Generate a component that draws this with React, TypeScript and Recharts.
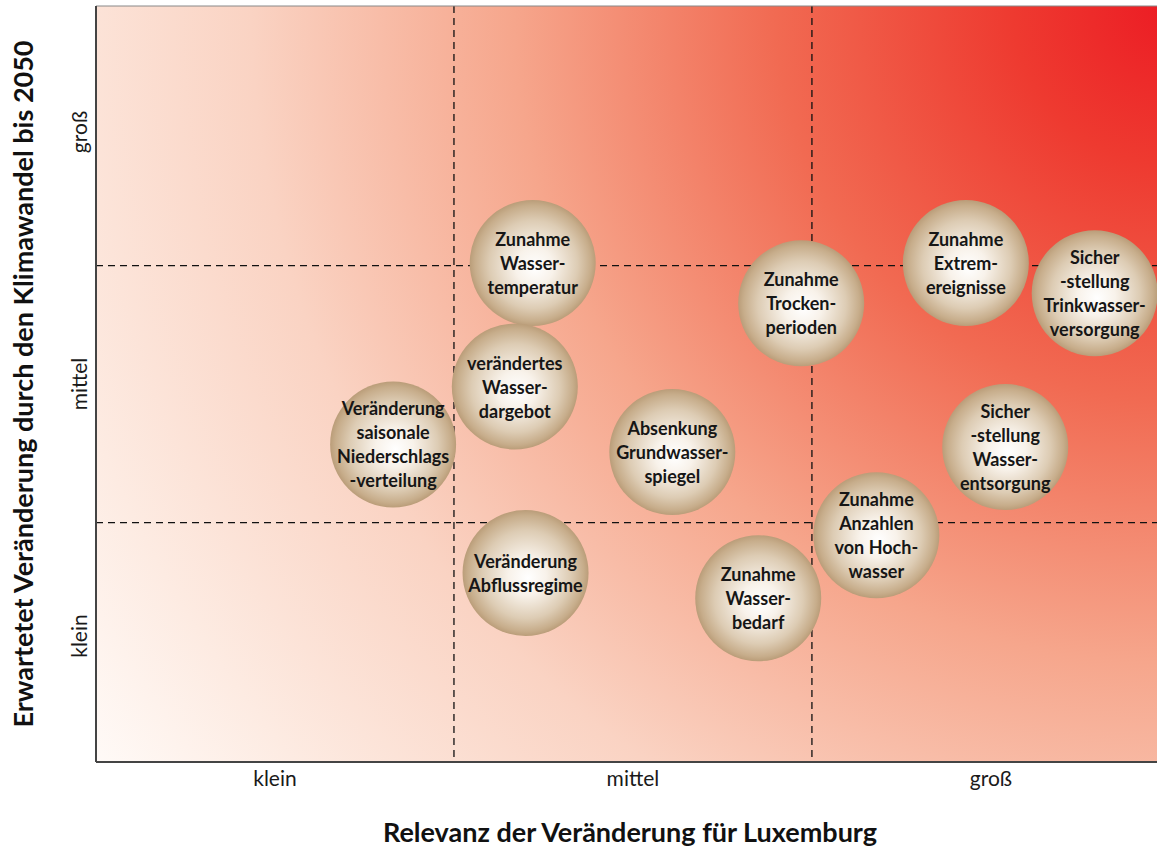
import { ScatterChart, Scatter, XAxis, YAxis, CartesianGrid, ReferenceLine } from "recharts";

const levels = ["klein", "mittel", "groß"];
const levelTicks = [0.5, 1.5, 2.5];
const splitX = [1, 2];
const splitY = [0.95, 1.97];

const topics = [
  "Zunahme\nWasser-\ntemperatur",
  "verändertes\nWasser-\ndargebot",
  "Veränderung\nsaisonale\nNiederschlags\n-verteilung",
  "Absenkung\nGrundwasser-\nspiegel",
  "Veränderung\nAbflussregime",
  "Zunahme\nWasser-\nbedarf",
  "Zunahme\nTrocken-\nperioden",
  "Zunahme\nExtrem-\nereignisse",
  "Sicher\n-stellung\nTrinkwasser-\nversorgung",
  "Sicher\n-stellung\nWasser-\nentsorgung",
  "Zunahme\nAnzahlen\nvon Hoch-\nwasser",
];
const relevance = [1.22, 1.17, 0.83, 1.61, 1.2, 1.85, 1.97, 2.43, 2.79, 2.54, 2.18];
const change = [1.98, 1.49, 1.26, 1.23, 0.75, 0.65, 1.82, 1.98, 1.86, 1.25, 0.9];

const data = topics.map((label, i) => ({ label, x: relevance[i], y: change[i] }));

const FONT = "Lato, 'Open Sans', sans-serif";
const BUBBLE_R = 63;

function Bubble(props: any) {
  const { cx, cy, payload } = props;
  const lines: string[] = payload.label.split("\n");
  const lh = 24;
  const y0 = cy - ((lines.length - 1) * lh) / 2;
  return (
    <g>
      <circle cx={cx} cy={cy} r={BUBBLE_R} fill="url(#bubble)" />
      <text textAnchor="middle" fontFamily={FONT} fontWeight={700} fontSize={18} fill="#161616">
        {lines.map((l, i) => (
          <tspan key={i} x={cx} y={y0 + i * lh} dominantBaseline="central">
            {l}
          </tspan>
        ))}
      </text>
    </g>
  );
}

function XTick({ x, y, payload }: any) {
  return (
    <text x={x} y={y} dy={16} textAnchor="middle" fontFamily={FONT} fontSize={21} fill="#1a1a1a">
      {levels[Math.floor(payload.value)]}
    </text>
  );
}

function YTick({ x, y, payload }: any) {
  const tx = x - 1;
  return (
    <text x={tx} y={y} transform={`rotate(-90, ${tx}, ${y})`} textAnchor="middle" fontFamily={FONT} fontSize={21} fill="#1a1a1a">
      {levels[Math.floor(payload.value)]}
    </text>
  );
}

export default function App() {
  return (
    <div style={{ position: "absolute", left: 0, top: 0, width: 1157, height: 848, overflow: "hidden", background: "#fff" }}>
      <ScatterChart width={1157} height={848} margin={{ top: 6, right: 0, bottom: 0, left: 0 }}>
        <defs>
          <radialGradient id="bg" gradientUnits="userSpaceOnUse" cx={1170} cy={6} r={1313}>
            <stop offset="0" stopColor="#EC1C24" />
            <stop offset="0.12" stopColor="#EE3A30" />
            <stop offset="0.3" stopColor="#F16A52" />
            <stop offset="0.5" stopColor="#F6A68C" />
            <stop offset="0.7" stopColor="#FAD3C3" />
            <stop offset="0.88" stopColor="#FDEBE2" />
            <stop offset="1" stopColor="#FFFAF7" />
          </radialGradient>
          <radialGradient id="bubble" cx="50%" cy="50%" r="50%" fx="52%" fy="54%">
            <stop offset="0" stopColor="#FFFFFF" />
            <stop offset="0.3" stopColor="#F8F2EA" />
            <stop offset="0.7" stopColor="#DDCCB4" />
            <stop offset="0.92" stopColor="#C7AD8B" />
            <stop offset="1" stopColor="#BA9D79" />
          </radialGradient>
        </defs>
        <CartesianGrid
          fill="url(#bg)"
          fillOpacity={1}
          stroke="#111"
          strokeWidth={1.3}
          strokeDasharray="7 5"
          verticalValues={splitX}
          horizontalValues={splitY}
        />
        <XAxis
          type="number"
          dataKey="x"
          domain={[0, 2.964]}
          ticks={levelTicks}
          tick={<XTick />}
          tickLine={false}
          axisLine={{ stroke: "#444", strokeWidth: 2 }}
          height={86}
          label={{
            content: ({ viewBox }: any) => (
              <text
                x={viewBox.x + 534}
                y={viewBox.y + 80}
                textAnchor="middle"
                fontFamily={FONT}
                fontWeight={700}
                fontSize={27}
                fill="#111"
              >
                Relevanz der Veränderung für Luxemburg
              </text>
            ),
          }}
        />
        <YAxis
          type="number"
          dataKey="y"
          domain={[0, 3]}
          ticks={levelTicks}
          tick={<YTick />}
          tickLine={false}
          axisLine={{ stroke: "#444", strokeWidth: 2 }}
          width={96}
          label={{
            content: ({ viewBox }: any) => {
              const tx = viewBox.x + 33;
              const ty = viewBox.y + viewBox.height / 2;
              return (
                <text
                  x={tx}
                  y={ty}
                  transform={`rotate(-90, ${tx}, ${ty})`}
                  textAnchor="middle"
                  fontFamily={FONT}
                  fontWeight={700}
                  fontSize={27}
                  fill="#111"
                >
                  Erwartetet Veränderung durch den Klimawandel bis 2050
                </text>
              );
            },
          }}
        />
        <ReferenceLine y={3} stroke="#888" strokeWidth={1} />
        <Scatter data={data} shape={<Bubble />} isAnimationActive={false} />
      </ScatterChart>
    </div>
  );
}
